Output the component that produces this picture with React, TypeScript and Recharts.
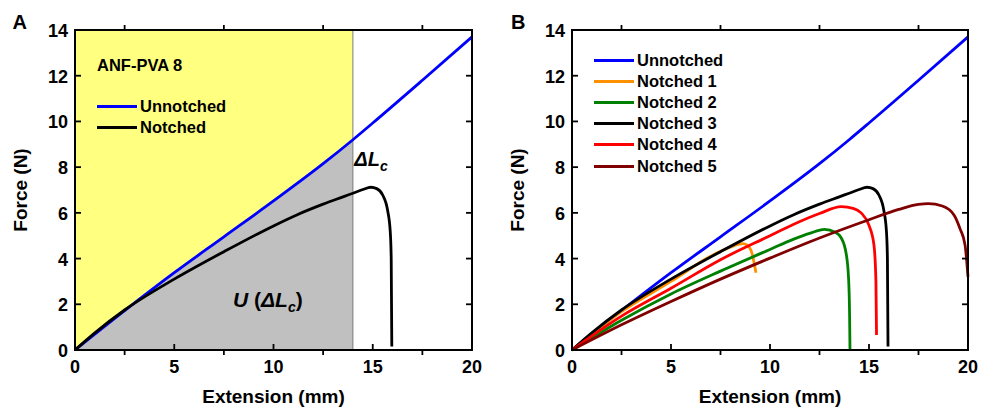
import React from 'react';
import {
  ComposedChart,
  Line,
  Area,
  XAxis,
  YAxis,
  ReferenceArea,
  ReferenceLine,
  ReferenceDot,
} from 'recharts';

const FONT = '"Liberation Sans", Arial, sans-serif';
const INK = '#000000';

// [extension (mm), force (N)]
const UNNOTCHED: [number, number][] = [
  [0, 0], [2.5, 1.72], [5, 3.38], [7.5, 4.95], [10, 6.52], [12.5, 8.15],
  [14, 9.2], [15, 9.93], [17.5, 11.8], [20, 13.7],
];
const NOTCHED_1: [number, number][] = [
  [0, 0], [2.5, 1.68], [5, 3.0], [7, 4.1], [8, 4.5], [8.65, 4.65],
  [8.9, 4.55], [9.1, 4.2], [9.2, 3.8], [9.29, 3.38],
];
const NOTCHED_2: [number, number][] = [
  [0, 0], [2.5, 1.3], [5, 2.45], [7.5, 3.45], [10, 4.4], [11.2, 4.85],
  [12, 5.1], [12.75, 5.28], [13.3, 5.15], [13.6, 4.9], [13.85, 4.2],
  [13.97, 3.1], [14.02, 1.5], [14.04, 0],
];
// also the "Notched" curve of panel A
const NOTCHED_3: [number, number][] = [
  [0, 0], [1, 0.75], [2.5, 1.75], [5, 3.1], [7.5, 4.3], [10, 5.43],
  [11.2, 5.92], [12.5, 6.38], [13.5, 6.7], [14, 6.86], [14.5, 7.02],
  [14.9, 7.12], [15.2, 7.06], [15.5, 6.78], [15.75, 6.1], [15.88, 5.2],
  [15.93, 4], [15.96, 0.15],
];
const NOTCHED_4: [number, number][] = [
  [0, 0], [2.5, 1.48], [5, 2.7], [7.5, 3.95], [10, 5.0], [11.2, 5.5],
  [12.5, 5.97], [13.6, 6.27], [14.2, 6.2], [14.6, 6.0], [15, 5.45],
  [15.25, 4.6], [15.35, 3], [15.38, 0.66],
];
const NOTCHED_5: [number, number][] = [
  [0, 0], [2.5, 1.1], [5, 2.12], [7.5, 3.1], [10, 4.02], [12.5, 4.9],
  [15, 5.7], [16.5, 6.15], [17.5, 6.37], [18, 6.4], [18.7, 6.3],
  [19.3, 5.9], [19.6, 5.3], [19.85, 4.6], [20, 3.2],
];

const DELTA_LC = 14;
const X_MAX = 20;
const Y_MAX = 14;
const X_DOMAIN = [0, X_MAX];
const Y_DOMAIN = [0, Y_MAX];
const X_TICKS = [0, 2.5, 5, 7.5, 10, 12.5, 15, 17.5, 20];
const X_LABELS = [0, 5, 10, 15, 20];
const Y_TICKS = [0, 2, 4, 6, 8, 10, 12, 14];

const toPts = (arr: [number, number][]) => arr.map(([ext, force]) => ({ ext, force }));
const GRAY_PTS = toPts(UNNOTCHED.filter(([x]) => x <= DELTA_LC));

const SERIES_A = [
  { name: 'Unnotched', color: '#0000ff', pts: toPts(UNNOTCHED) },
  { name: 'Notched', color: INK, pts: toPts(NOTCHED_3) },
];
const SERIES_B = [
  { name: 'Unnotched', color: '#0000ff', pts: toPts(UNNOTCHED) },
  { name: 'Notched 1', color: '#ff9000', pts: toPts(NOTCHED_1) },
  { name: 'Notched 2', color: '#008000', pts: toPts(NOTCHED_2) },
  { name: 'Notched 3', color: INK, pts: toPts(NOTCHED_3) },
  { name: 'Notched 4', color: '#ff0000', pts: toPts(NOTCHED_4) },
  { name: 'Notched 5', color: '#800000', pts: toPts(NOTCHED_5) },
];

const txt = { fontFamily: FONT, fontWeight: 'bold' as const, fill: INK };
const TICK = { stroke: INK, strokeWidth: 1.8 };

const BottomLabel = (p: any) => (
  <text x={p.x} y={p.y + 17} textAnchor="middle" fontSize={18} {...txt}>{p.payload.value}</text>
);
const LeftLabel = (p: any) => (
  <text x={p.x - 1} y={p.y + 7} textAnchor="end" fontSize={18} {...txt}>{p.payload.value}</text>
);

const X_TITLE = {
  content: ({ viewBox }: any) => (
    <text x={viewBox.x + viewBox.width / 2} y={viewBox.y + 52.5} textAnchor="middle" fontSize={19} {...txt}>
      Extension (mm)
    </text>
  ),
};
const Y_TITLE = {
  content: ({ viewBox }: any) => {
    const cx = viewBox.x + viewBox.width - 48.5;
    const cy = viewBox.y + viewBox.height / 2;
    return (
      <text x={cx} y={cy} transform={`rotate(-90, ${cx}, ${cy})`} textAnchor="middle" fontSize={19} {...txt}>
        Force (N)
      </text>
    );
  },
};
const DLC_LABEL = {
  content: ({ viewBox }: any) => (
    <text x={viewBox.x} y={viewBox.y} fontSize={20} fontStyle="italic" {...txt}>
      ΔL<tspan fontSize={14} dy={5}>c</tspan>
    </text>
  ),
};
const U_LABEL = {
  content: ({ viewBox }: any) => (
    <text x={viewBox.x} y={viewBox.y} fontSize={21} {...txt}>
      <tspan fontStyle="italic">U </tspan>
      <tspan>(</tspan>
      <tspan fontStyle="italic">ΔL</tspan>
      <tspan fontStyle="italic" fontSize={14} dy={5}>c</tspan>
      <tspan dy={-5}>)</tspan>
    </text>
  ),
};

const HEIGHT = 408;
const TOP = 30;
const X_AXIS_H = 58;
const PANEL_A = { width: 490, left: 75, right: 18 };
const PANEL_B = { width: 493, left: 82, right: 15 };

const LegendRows = ({ items, left, top, step }: any) => (
  <div style={{ position: 'absolute', left: 0, top: 0, fontFamily: FONT, fontWeight: 'bold', fontSize: 16.5 }}>
    {items.map((s: any, i: number) => (
      <div key={s.name} style={{ position: 'absolute', left, top: top + i * step, height: 21, lineHeight: '21px', display: 'flex', alignItems: 'center', whiteSpace: 'nowrap' }}>
        <div style={{ width: 40, height: 3, background: s.color, marginRight: 3 }} />
        <span style={{ color: INK }}>{s.name}</span>
      </div>
    ))}
  </div>
);

// box frame with inward majors / outward minors, laid over the plot area of a panel
function Frame({ panel }: any) {
  const x0 = panel.left;
  const x1 = panel.width - panel.right;
  const y0 = TOP;
  const y1 = HEIGHT - X_AXIS_H;
  const sx = (v: number) => x0 + (v / X_MAX) * (x1 - x0);
  const sy = (v: number) => y1 - (v / Y_MAX) * (y1 - y0);
  return (
    <svg width={panel.width} height={HEIGHT} style={{ position: 'absolute', left: 0, top: 0, pointerEvents: 'none' }}>
      {X_TICKS.map((v) => (v % 5 === 0 ? (
        <line key={`x${v}`} x1={sx(v)} x2={sx(v)} y1={y1} y2={y1 - 6} {...TICK} />
      ) : (
        <g key={`x${v}`}>
          <line x1={sx(v)} x2={sx(v)} y1={y1} y2={y1 + 5} {...TICK} />
          <line x1={sx(v)} x2={sx(v)} y1={y0} y2={y0 - 5} {...TICK} />
        </g>
      )))}
      {Y_TICKS.map((v) => (
        <g key={`y${v}`}>
          <line x1={x0} x2={x0 + 6} y1={sy(v)} y2={sy(v)} {...TICK} />
          <line x1={x1} x2={x1 - 6} y1={sy(v)} y2={sy(v)} {...TICK} />
        </g>
      ))}
      <rect x={x0} y={y0} width={x1 - x0} height={y1 - y0} fill="none" stroke={INK} strokeWidth={2} />
    </svg>
  );
}

const axes = (leftWidth: number) => [
  <XAxis key="x" dataKey="ext" type="number" domain={X_DOMAIN} ticks={X_LABELS} interval={0} height={X_AXIS_H}
    tickSize={6} tickMargin={0} tickLine={false} axisLine={false} tick={BottomLabel} label={X_TITLE} />,
  <YAxis key="y" type="number" domain={Y_DOMAIN} ticks={Y_TICKS} interval={0} width={leftWidth}
    tickSize={6} tickMargin={0} tickLine={false} axisLine={false} tick={LeftLabel} label={Y_TITLE} />,
];

const MARGIN_A = { top: TOP, right: PANEL_A.right, bottom: 0, left: 0 };
const MARGIN_B = { top: TOP, right: PANEL_B.right, bottom: 0, left: 0 };

function PanelA() {
  return (
    <ComposedChart width={PANEL_A.width} height={HEIGHT} margin={MARGIN_A}>
      {axes(PANEL_A.left)}
      <ReferenceArea x1={0} x2={DELTA_LC} y1={0} y2={Y_MAX} fill="#ffff80" fillOpacity={1} stroke="none" />
      <Area data={GRAY_PTS} dataKey="force" type="monotone" fill="#c0c0c0" fillOpacity={1} stroke="none" isAnimationActive={false} />
      <ReferenceLine x={DELTA_LC} stroke="#7a7a7a" strokeWidth={1} />
      {SERIES_A.map((s) => (
        <Line key={s.name} data={s.pts} dataKey="force" name={s.name} type="monotone" stroke={s.color}
          strokeWidth={2.8} dot={false} activeDot={false} isAnimationActive={false} />
      ))}
      <ReferenceDot x={14.07} y={8.03} r={0} label={DLC_LABEL} />
      <ReferenceDot x={7.96} y={1.9} r={0} label={U_LABEL} />
    </ComposedChart>
  );
}

function PanelB() {
  return (
    <ComposedChart width={PANEL_B.width} height={HEIGHT} margin={MARGIN_B}>
      {axes(PANEL_B.left)}
      {SERIES_B.map((s) => (
        <Line key={s.name} data={s.pts} dataKey="force" name={s.name} type="monotone" stroke={s.color}
          strokeWidth={2.8} dot={false} activeDot={false} isAnimationActive={false} />
      ))}
    </ComposedChart>
  );
}

const letter = (left: number): React.CSSProperties => ({
  position: 'absolute', left, top: 12.4, lineHeight: '20px', fontSize: 20,
  fontFamily: FONT, fontWeight: 'bold', color: INK,
});

export default function App() {
  return (
    <div style={{ position: 'absolute', left: 0, top: 0, width: 983, height: HEIGHT, background: '#ffffff' }}>
      <div style={{ position: 'absolute', left: 0, top: 0, width: PANEL_A.width, height: HEIGHT }}>
        <PanelA />
        <Frame panel={PANEL_A} />
        <div style={{ position: 'absolute', left: 97, top: 54.5, lineHeight: '21px', fontFamily: FONT, fontWeight: 'bold', fontSize: 16.5, whiteSpace: 'nowrap', color: INK }}>
          ANF-PVA 8
        </div>
        <LegendRows items={SERIES_A} left={97} top={96} step={21} />
      </div>
      <div style={{ position: 'absolute', left: 490, top: 0, width: PANEL_B.width, height: HEIGHT }}>
        <PanelB />
        <Frame panel={PANEL_B} />
        <LegendRows items={SERIES_B} left={104} top={49.5} step={21.2} />
      </div>
      <div style={letter(12.5)}>A</div>
      <div style={letter(511)}>B</div>
    </div>
  );
}
